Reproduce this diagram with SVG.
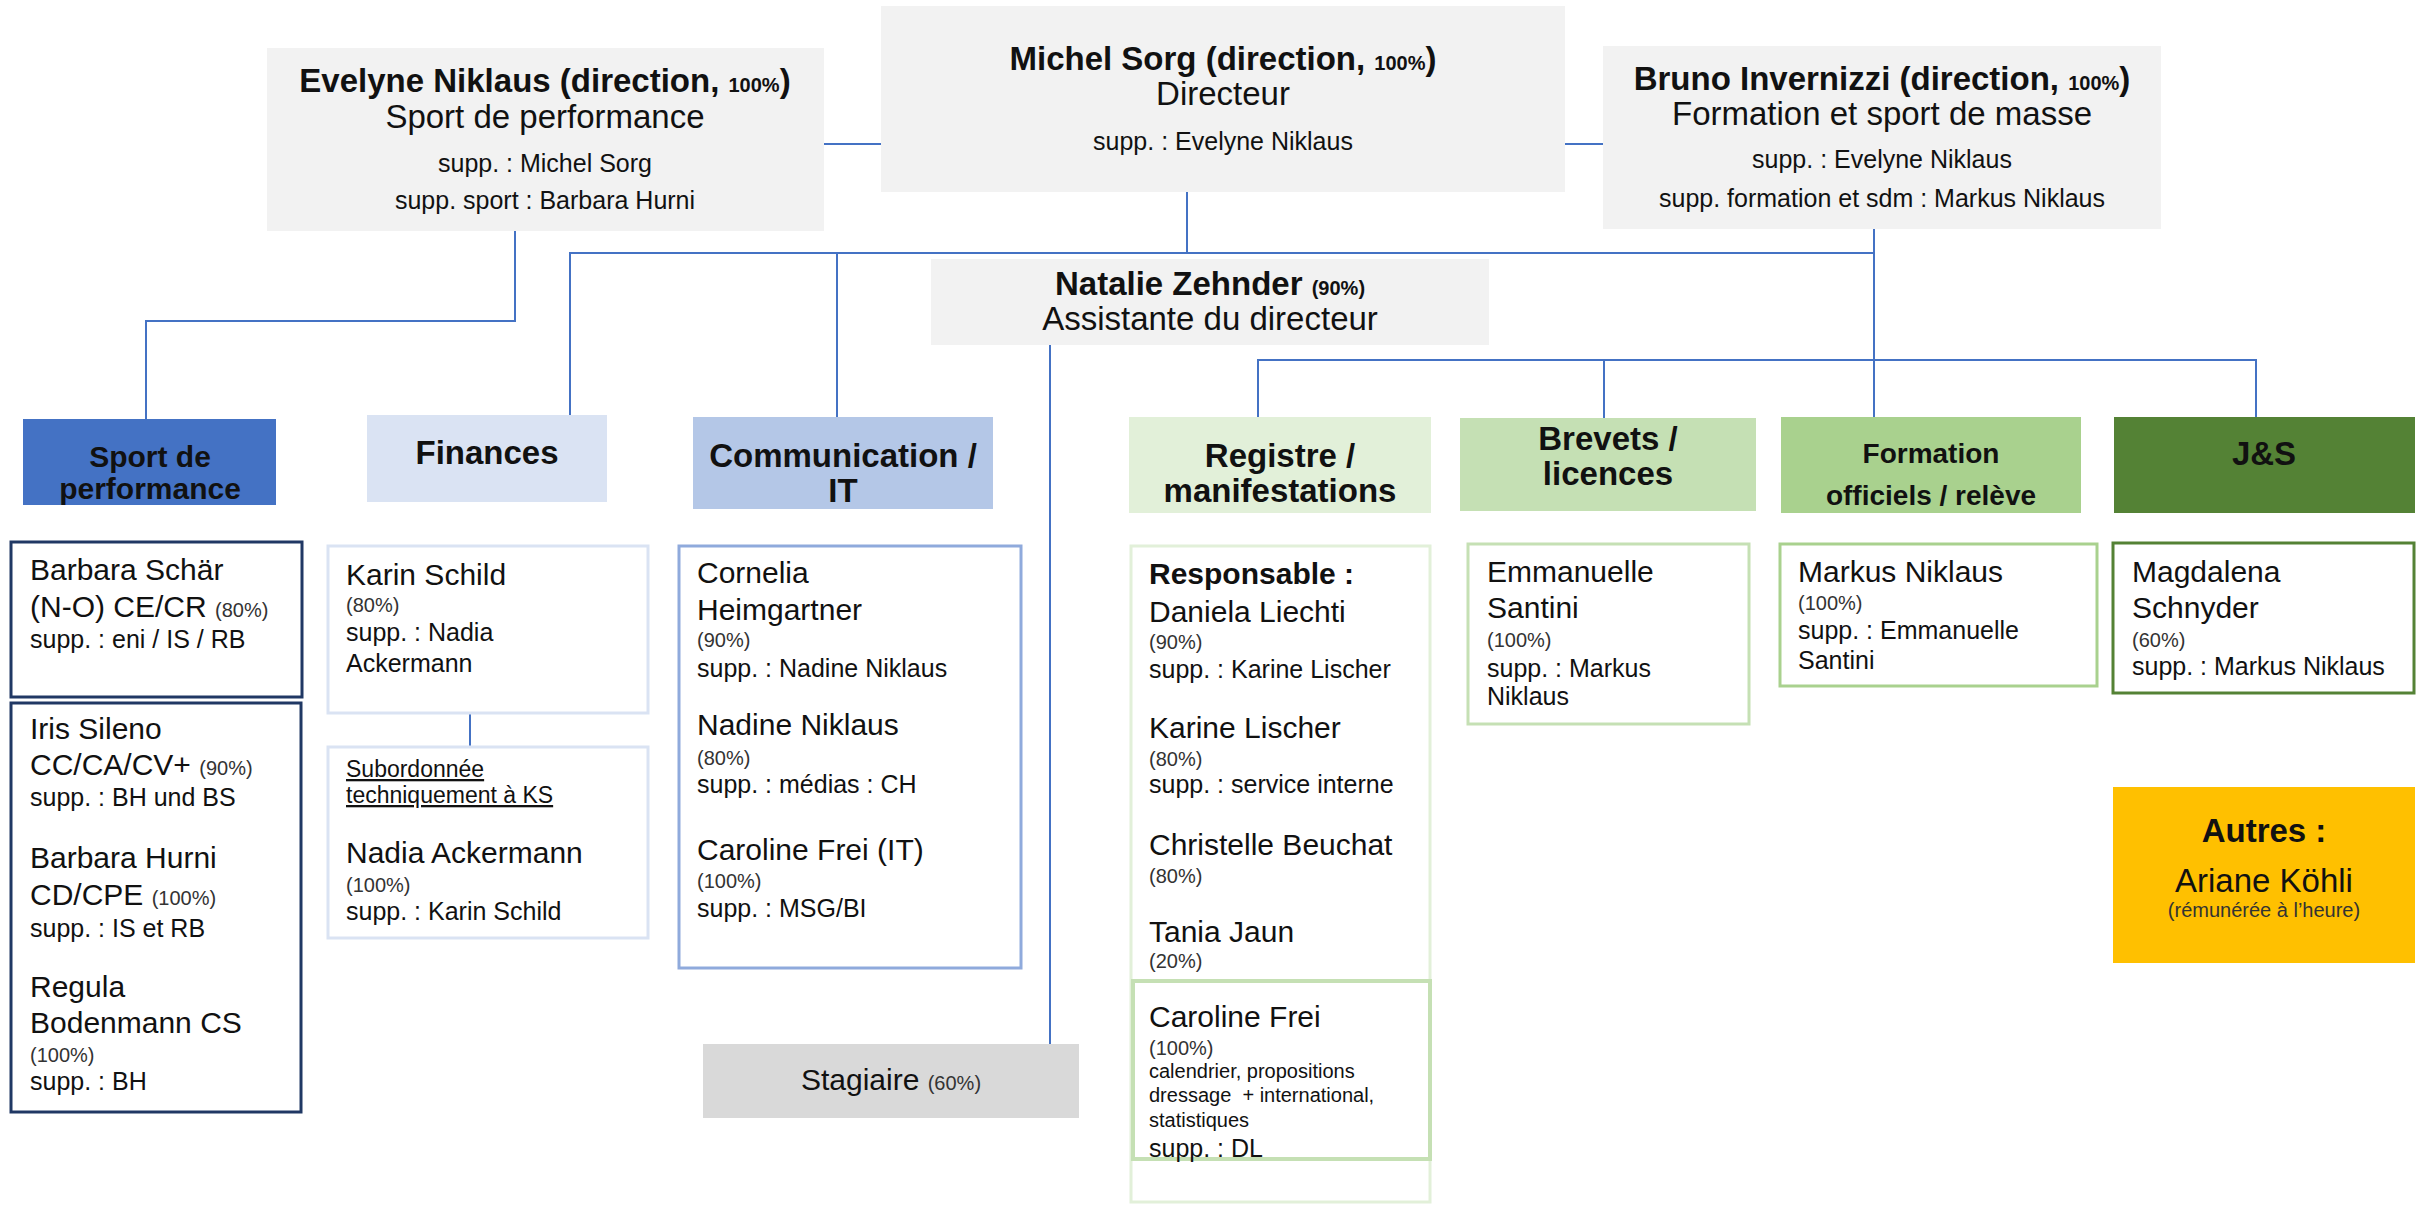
<svg xmlns="http://www.w3.org/2000/svg" width="2430" height="1205" viewBox="0 0 2430 1205">
<style>
text{font-family:"Liberation Sans",Arial,sans-serif;fill:#111}
.b{font-weight:bold}
.t33{font-size:33px}
.t30{font-size:30px}
.t28{font-size:28px}
.t25{font-size:25px}
.t23{font-size:23px}
.t20{font-size:20px}
.p{font-size:20px;fill:#333}
.m{text-anchor:middle}
.u{text-decoration:underline}
.dir{fill:#f2f2f2}
.conn{stroke:#4472c4;stroke-width:2;fill:none}
.pb{fill:#fff;stroke-width:3}
</style>
<rect width="2430" height="1205" fill="#fff"/>
<g id="connectors" class="conn">
<path d="M824 144H881"/>
<path d="M1565 144H1603"/>
<path d="M515 231V321H146V419"/>
<path d="M1187 192V253"/>
<path d="M570 415V253H1874"/>
<path d="M837 253V417"/>
<path d="M1874 229V417"/>
<path d="M1258 417V360H2256V417"/>
<path d="M1604 360V418"/>
<path d="M1050 345V1044"/>
<path d="M470 713V747"/>
</g>
<g id="evelyne">
<rect class="dir" x="267" y="48" width="557" height="183"/>
<text class="b t33 m" x="545" y="92">Evelyne Niklaus (direction, <tspan class="t20">100%</tspan>)</text>
<text class="t33 m" x="545" y="128">Sport de performance</text>
<text class="t25 m" x="545" y="172">supp. : Michel Sorg</text>
<text class="t25 m" x="545" y="209">supp. sport : Barbara Hurni</text>
</g>
<g id="michel">
<rect class="dir" x="881" y="6" width="684" height="186"/>
<text class="b t33 m" x="1223" y="70">Michel Sorg (direction, <tspan class="t20">100%</tspan>)</text>
<text class="t33 m" x="1223" y="105">Directeur</text>
<text class="t25 m" x="1223" y="150">supp. : Evelyne Niklaus</text>
</g>
<g id="bruno">
<rect class="dir" x="1603" y="46" width="558" height="183"/>
<text class="b t33 m" x="1882" y="90">Bruno Invernizzi (direction, <tspan class="t20">100%</tspan>)</text>
<text class="t33 m" x="1882" y="125">Formation et sport de masse</text>
<text class="t25 m" x="1882" y="168">supp. : Evelyne Niklaus</text>
<text class="t25 m" x="1882" y="207">supp. formation et sdm : Markus Niklaus</text>
</g>
<g id="natalie">
<rect class="dir" x="931" y="259" width="558" height="86"/>
<text class="b t33 m" x="1210" y="295">Natalie Zehnder <tspan class="t20">(90%)</tspan></text>
<text class="t33 m" x="1210" y="330">Assistante du directeur</text>
</g>
<g id="h-sport">
<rect x="23" y="419" width="253" height="86" fill="#4472c4"/>
<text class="b t30 m" x="150" y="467">Sport de</text>
<text class="b t30 m" x="150" y="499">performance</text>
</g>
<g id="h-finances">
<rect x="367" y="415" width="240" height="87" fill="#dae3f3"/>
<text class="b t33 m" x="487" y="464">Finances</text>
</g>
<g id="h-comm">
<rect x="693" y="417" width="300" height="92" fill="#b4c7e7"/>
<text class="b t33 m" x="843" y="467">Communication /</text>
<text class="b t33 m" x="843" y="502">IT</text>
</g>
<g id="h-registre">
<rect x="1129" y="417" width="302" height="96" fill="#e2f0d9"/>
<text class="b t33 m" x="1280" y="467">Registre /</text>
<text class="b t33 m" x="1280" y="502">manifestations</text>
</g>
<g id="h-brevets">
<rect x="1460" y="418" width="296" height="93" fill="#c5e0b4"/>
<text class="b t33 m" x="1608" y="450">Brevets /</text>
<text class="b t33 m" x="1608" y="485">licences</text>
</g>
<g id="h-formation">
<rect x="1781" y="417" width="300" height="96" fill="#a9d18e"/>
<text class="b t28 m" x="1931" y="463">Formation</text>
<text class="b t28 m" x="1931" y="505">officiels / relève</text>
</g>
<g id="h-js">
<rect x="2114" y="417" width="301" height="96" fill="#548235"/>
<text class="b t33 m" x="2264" y="465">J&amp;S</text>
</g>
<g id="p-schaer">
<rect class="pb" x="11" y="542" width="291" height="155" stroke="#203864"/>
<text class="t30" x="30" y="580">Barbara Schär</text>
<text class="t30" x="30" y="617">(N-O) CE/CR <tspan class="p">(80%)</tspan></text>
<text class="t25" x="30" y="648">supp. : eni / IS / RB</text>
</g>
<g id="p-sileno">
<rect class="pb" x="11" y="703" width="290" height="409" stroke="#203864"/>
<text class="t30" x="30" y="739">Iris Sileno</text>
<text class="t30" x="30" y="775">CC/CA/CV+ <tspan class="p">(90%)</tspan></text>
<text class="t25" x="30" y="806">supp. : BH und BS</text>
<text class="t30" x="30" y="868">Barbara Hurni</text>
<text class="t30" x="30" y="905">CD/CPE <tspan class="p">(100%)</tspan></text>
<text class="t25" x="30" y="937">supp. : IS et RB</text>
<text class="t30" x="30" y="997">Regula</text>
<text class="t30" x="30" y="1033">Bodenmann CS</text>
<text class="p" x="30" y="1062">(100%)</text>
<text class="t25" x="30" y="1090">supp. : BH</text>
</g>
<g id="p-schild">
<rect class="pb" x="328" y="546" width="320" height="167" stroke="#dae3f3"/>
<text class="t30" x="346" y="585">Karin Schild</text>
<text class="p" x="346" y="612">(80%)</text>
<text class="t25" x="346" y="641">supp. : Nadia</text>
<text class="t25" x="346" y="672">Ackermann</text>
</g>
<g id="p-ackermann">
<rect class="pb" x="328" y="747" width="320" height="191" stroke="#dae3f3"/>
<text class="t23 u" x="346" y="777">Subordonnée</text>
<text class="t23 u" x="346" y="803">techniquement à KS</text>
<text class="t30" x="346" y="863">Nadia Ackermann</text>
<text class="p" x="346" y="892">(100%)</text>
<text class="t25" x="346" y="920">supp. : Karin Schild</text>
</g>
<g id="p-comm">
<rect class="pb" x="679" y="546" width="342" height="422" stroke="#8faadc"/>
<text class="t30" x="697" y="583">Cornelia</text>
<text class="t30" x="697" y="620">Heimgartner</text>
<text class="p" x="697" y="647">(90%)</text>
<text class="t25" x="697" y="677">supp. : Nadine Niklaus</text>
<text class="t30" x="697" y="735">Nadine Niklaus</text>
<text class="p" x="697" y="765">(80%)</text>
<text class="t25" x="697" y="793">supp. : médias : CH</text>
<text class="t30" x="697" y="860">Caroline Frei (IT)</text>
<text class="p" x="697" y="888">(100%)</text>
<text class="t25" x="697" y="917">supp. : MSG/BI</text>
</g>
<g id="stagiaire">
<rect x="703" y="1044" width="376" height="74" fill="#d9d9d9"/>
<text class="t30 m" x="891" y="1090">Stagiaire <tspan class="p">(60%)</tspan></text>
</g>
<g id="p-registre">
<rect class="pb" x="1131" y="546" width="299" height="656" stroke="#e2f0d9"/>
<text class="b t30" x="1149" y="584">Responsable :</text>
<text class="t30" x="1149" y="622">Daniela Liechti</text>
<text class="p" x="1149" y="649">(90%)</text>
<text class="t25" x="1149" y="678">supp. : Karine Lischer</text>
<text class="t30" x="1149" y="738">Karine Lischer</text>
<text class="p" x="1149" y="766">(80%)</text>
<text class="t25" x="1149" y="793">supp. : service interne</text>
<text class="t30" x="1149" y="855">Christelle Beuchat</text>
<text class="p" x="1149" y="883">(80%)</text>
<text class="t30" x="1149" y="942">Tania Jaun</text>
<text class="p" x="1149" y="968">(20%)</text>
</g>
<g id="p-frei">
<rect x="1133" y="981" width="297" height="178" fill="none" stroke="#c5e0b4" stroke-width="4"/>
<text class="t30" x="1149" y="1027">Caroline Frei</text>
<text class="p" x="1149" y="1055">(100%)</text>
<text class="t20" x="1149" y="1078">calendrier, propositions</text>
<text class="t20" x="1149" y="1102" xml:space="preserve">dressage  + international,</text>
<text class="t20" x="1149" y="1127">statistiques</text>
<text class="t25" x="1149" y="1157">supp. : DL</text>
</g>
<g id="p-santini">
<rect class="pb" x="1468" y="544" width="281" height="180" stroke="#c5e0b4"/>
<text class="t30" x="1487" y="582">Emmanuelle</text>
<text class="t30" x="1487" y="618">Santini</text>
<text class="p" x="1487" y="647">(100%)</text>
<text class="t25" x="1487" y="677">supp. : Markus</text>
<text class="t25" x="1487" y="705">Niklaus</text>
</g>
<g id="p-mniklaus">
<rect class="pb" x="1780" y="544" width="317" height="142" stroke="#a9d18e"/>
<text class="t30" x="1798" y="582">Markus Niklaus</text>
<text class="p" x="1798" y="610">(100%)</text>
<text class="t25" x="1798" y="639">supp. : Emmanuelle</text>
<text class="t25" x="1798" y="669">Santini</text>
</g>
<g id="p-schnyder">
<rect class="pb" x="2113" y="543" width="301" height="150" stroke="#548235"/>
<text class="t30" x="2132" y="582">Magdalena</text>
<text class="t30" x="2132" y="618">Schnyder</text>
<text class="p" x="2132" y="647">(60%)</text>
<text class="t25" x="2132" y="675">supp. : Markus Niklaus</text>
</g>
<g id="autres">
<rect x="2113" y="787" width="302" height="176" fill="#ffc000"/>
<text class="b t33 m" x="2264" y="842">Autres :</text>
<text class="t33 m" x="2264" y="892">Ariane Köhli</text>
<text class="p m" x="2264" y="917">(rémunérée à l’heure)</text>
</g>
</svg>
